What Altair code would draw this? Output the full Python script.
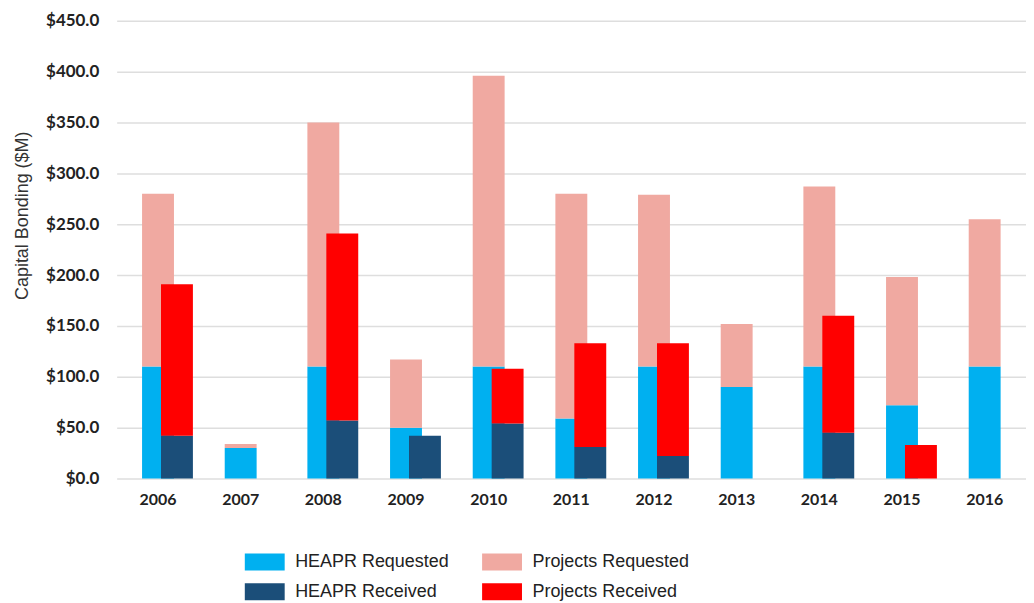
import altair as alt
import pandas as pd

years = ["2006", "2007", "2008", "2009", "2010", "2011", "2012", "2013", "2014", "2015", "2016"]
heapr_requested = [110, 30, 110, 50, 110, 59, 110, 90, 110, 72, 110]
projects_requested = [170, 4, 240, 67, 286, 221, 169, 62, 177, 126, 145]
heapr_received = [42, 0, 57, 42, 54, 31, 22, 0, 45, 0, 0]
projects_received = [149, 0, 184, 0, 54, 102, 111, 0, 115, 33, 0]

# legend is filled column by column
series = ["HEAPR Requested", "HEAPR Received", "Projects Requested", "Projects Received"]
colors = ["#00B0F0", "#1B4E79", "#F0A9A1", "#FF0000"]

rows = []
for i, y in enumerate(years):
    rows.append({"year": y, "series": "HEAPR Requested", "value": heapr_requested[i], "grp": "req", "ord": 0})
    rows.append({"year": y, "series": "Projects Requested", "value": projects_requested[i], "grp": "req", "ord": 1})
    rows.append({"year": y, "series": "HEAPR Received", "value": heapr_received[i], "grp": "rec", "ord": 0})
    rows.append({"year": y, "series": "Projects Received", "value": projects_received[i], "grp": "rec", "ord": 1})
df = pd.DataFrame(rows)

x_enc = alt.X(
    "year:O",
    title=None,
    sort=years,
    scale=alt.Scale(paddingInner=0, paddingOuter=0),
    axis=alt.Axis(
        labelAngle=0, labelFont="Lato", labelFontWeight="bold", labelFontSize=16,
        labelColor="#222222", ticks=False, domain=False, labelPadding=13,
    ),
)
y_enc = alt.Y(
    "value:Q",
    stack="zero",
    title="Capital Bonding ($M)",
    scale=alt.Scale(domain=[0, 450]),
    axis=alt.Axis(
        values=list(range(0, 451, 50)), format="$,.1f", labelFont="Lato",
        labelFontWeight="bold", labelFontSize=17, labelColor="#222222",
        ticks=False, domain=False, labelPadding=18, gridColor="#DEDEDE",
        gridWidth=1.5, titleFont="Liberation Sans", titleFontWeight="normal",
        titleFontSize=18, titleColor="#333333", titlePadding=14, titleY=195,
    ),
)
color_enc = alt.Color(
    "series:N",
    scale=alt.Scale(domain=series, range=colors),
    legend=alt.Legend(
        title=None, orient="none", legendX=128, legendY=530, columns=2,
        symbolType="M-1.6,-0.68H1.6V0.68H-1.6Z", symbolSize=625,
        symbolStrokeWidth=0, symbolOpacity=1, labelFont="Liberation Sans",
        labelFontSize=18, labelColor="#222222", labelOffset=18,
        rowPadding=8, columnPadding=32, symbolOffset=8,
    ),
)

req = alt.Chart(df).transform_filter(alt.datum.grp == "req").mark_bar(width=32).encode(
    x=x_enc, y=y_enc, color=color_enc, order=alt.Order("ord:Q")
)
rec = alt.Chart(df).transform_filter(alt.datum.grp == "rec").mark_bar(width=32, xOffset=19).encode(
    x=x_enc, y=y_enc, color=color_enc, order=alt.Order("ord:Q")
)

chart = alt.layer(req, rec).properties(
    width=912, height=459,
    padding={"left": 5, "top": 3, "right": 0, "bottom": 0},
).configure_view(stroke=None)

chart.save("out.html", embed_options={"renderer": "svg", "actions": False})
